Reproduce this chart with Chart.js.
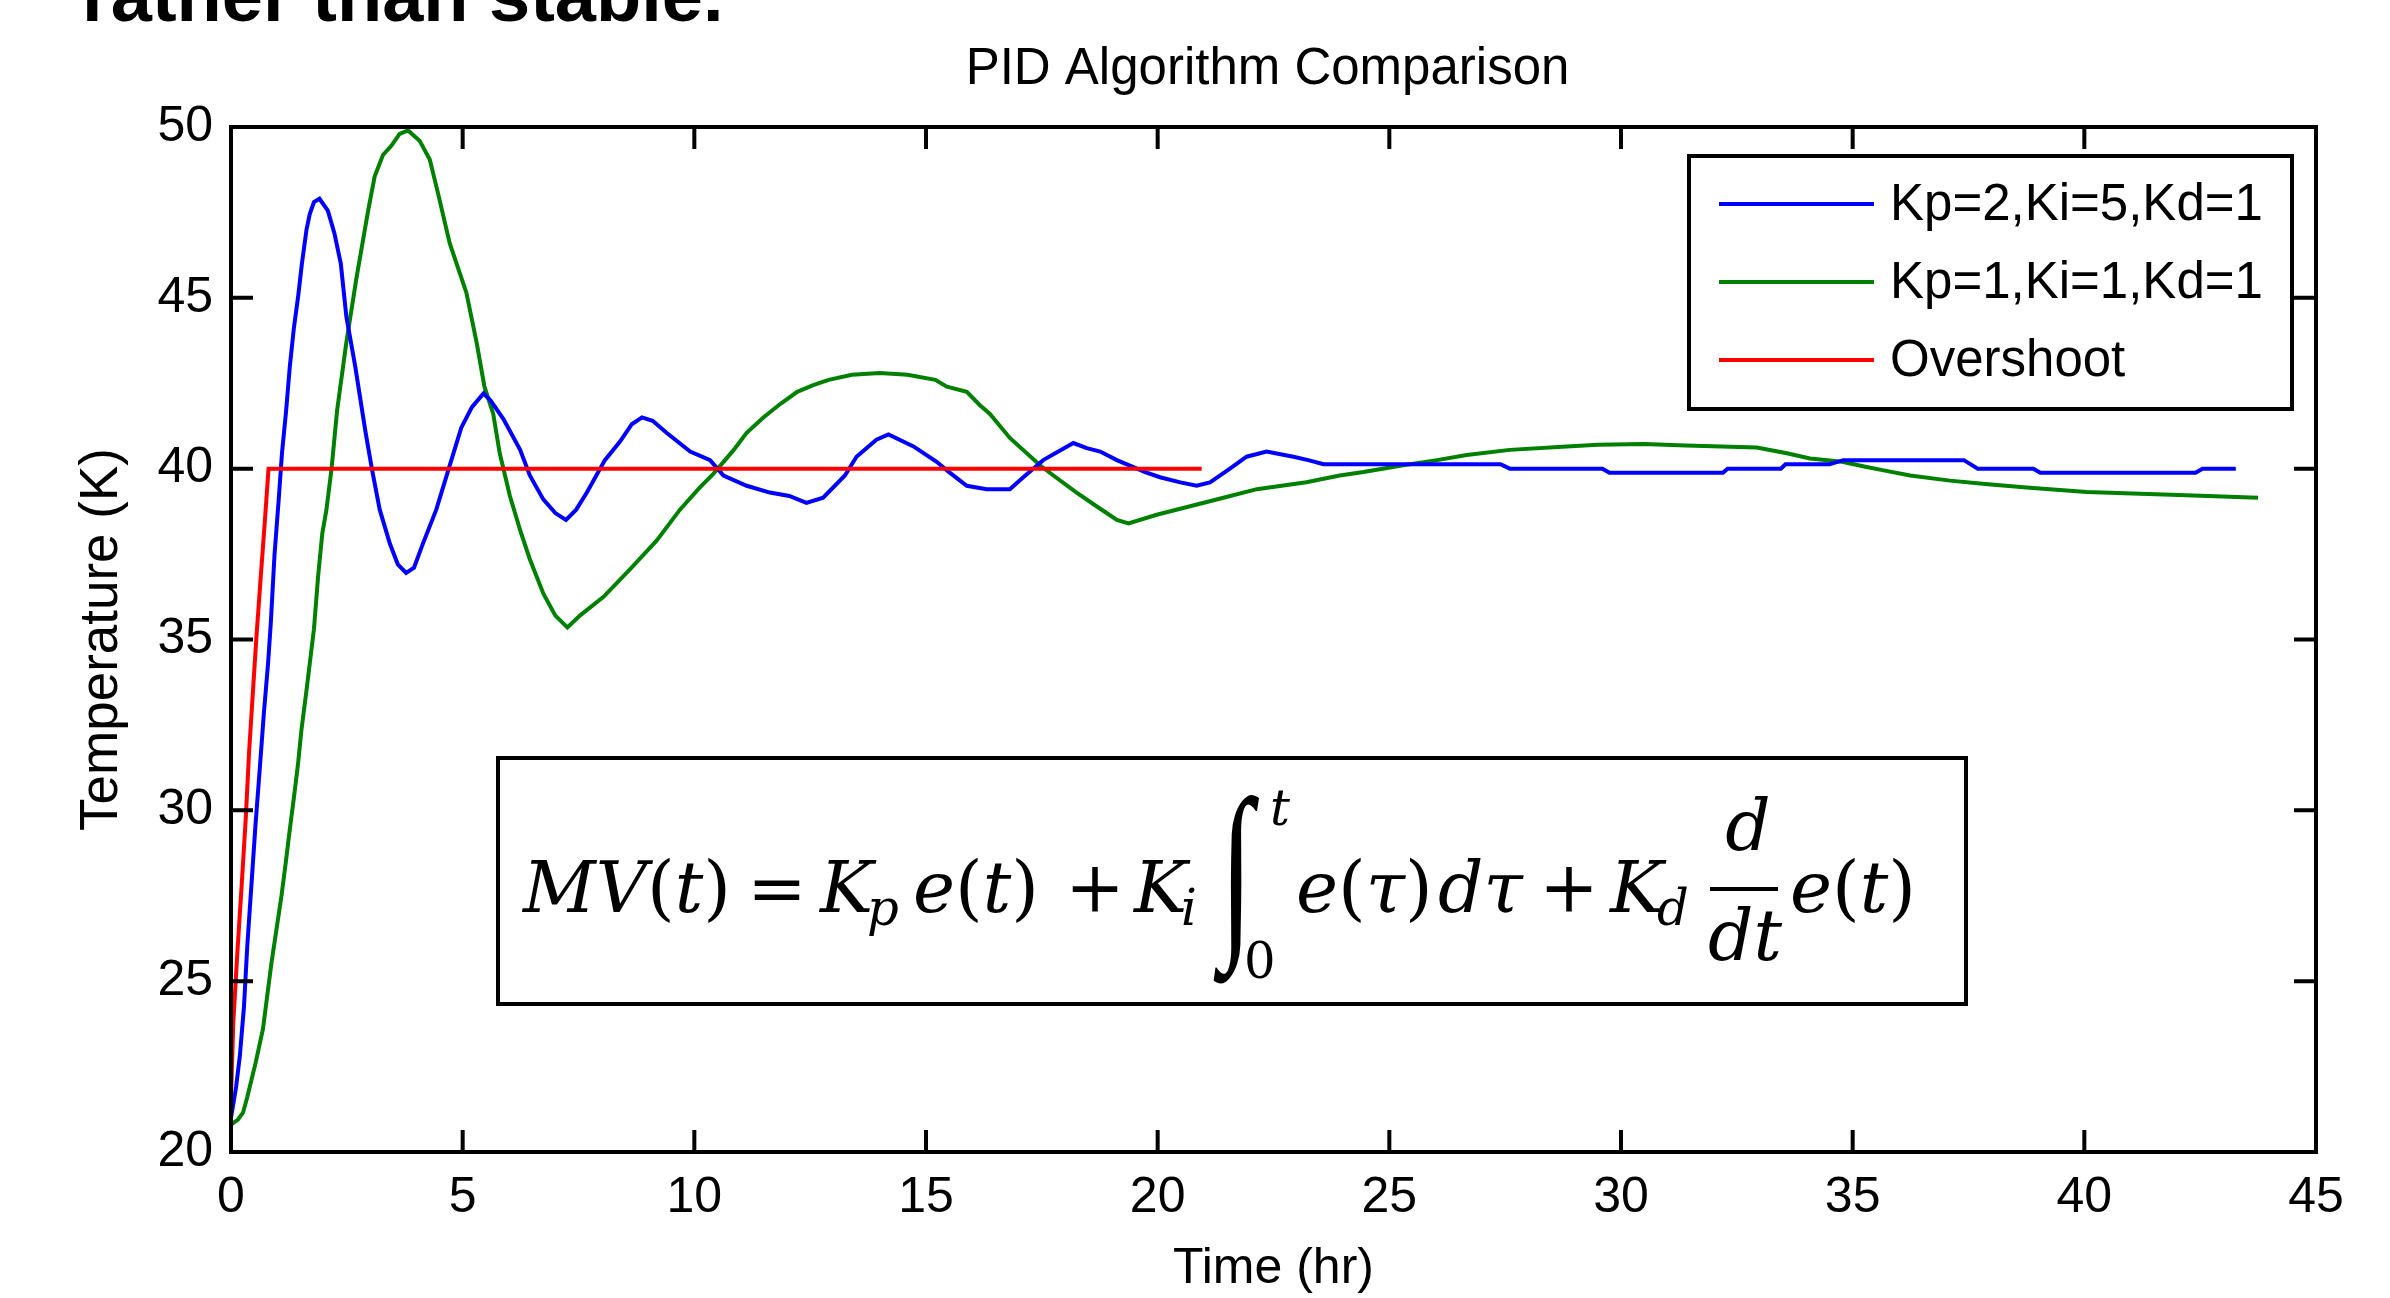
<!DOCTYPE html>
<html>
<head>
<meta charset="utf-8">
<title>PID Algorithm Comparison</title>
<script src="https://cdn.jsdelivr.net/npm/chart.js@4.4.1/dist/chart.umd.min.js"></script>
<style>
  html, body { margin: 0; padding: 0; background: #fff; }
  #wrap { position: relative; width: 2390px; height: 1298px; overflow: hidden; }
  #grafica { position: absolute; left: 0; top: 0; }
  #textoDiapositiva {
    position: absolute; left: 82px; top: -41px;
    font: bold 74px 'Liberation Sans', Arial, sans-serif;
    line-height: 74px; white-space: nowrap; color: #000;
  }
</style>
</head>
<body>
<div id="wrap">
  <canvas id="grafica" width="2390" height="1298"></canvas>
  <div id="textoDiapositiva">rather than stable.</div>
</div>
<script>
// Datos (tiempo en horas, temperatura en K)
const tiempoAzul = [0, 0.11, 0.19, 0.28, 0.35, 0.44, 0.53, 0.62, 0.71, 0.80, 0.86, 0.94, 1.03, 1.10, 1.19, 1.27, 1.36, 1.45, 1.53, 1.63, 1.70, 1.79, 1.91, 2.09, 2.23, 2.37, 2.49, 2.68, 2.90, 3.04, 3.21, 3.43, 3.60, 3.78, 3.95, 4.14, 4.43, 4.70, 4.97, 5.20, 5.45, 5.60, 5.88, 6.24, 6.45, 6.74, 7.00, 7.23, 7.45, 7.68, 8.07, 8.40, 8.65, 8.87, 9.10, 9.40, 9.91, 10.34, 10.63, 11.13, 11.63, 12.05, 12.42, 12.78, 13.25, 13.50, 13.93, 14.19, 14.73, 15.23, 15.45, 15.88, 16.31, 16.81, 17.10, 17.53, 18.18, 18.47, 18.76, 19.12, 19.73, 20.05, 20.49, 20.84, 21.13, 21.56, 21.92, 22.35, 22.93, 23.25, 23.58, 25.20, 27.40, 27.60, 29.60, 29.75, 32.20, 32.30, 33.45, 33.55, 34.50, 34.80, 37.40, 37.70, 38.90, 39.05, 42.40, 42.55, 43.27];
const tempAzul = [21.0, 21.9, 22.8, 24.25, 26.0, 27.8, 29.6, 31.2, 32.85, 34.3, 35.5, 37.5, 39.1, 40.45, 41.7, 43.0, 44.15, 45.05, 46.0, 47.0, 47.45, 47.8, 47.9, 47.55, 46.9, 46.0, 44.45, 43.0, 41.1, 40.0, 38.8, 37.8, 37.2, 36.95, 37.1, 37.8, 38.8, 40.0, 41.2, 41.8, 42.2, 42.0, 41.45, 40.55, 39.8, 39.1, 38.7, 38.5, 38.8, 39.3, 40.25, 40.8, 41.3, 41.5, 41.4, 41.05, 40.5, 40.25, 39.8, 39.5, 39.3, 39.2, 39.0, 39.15, 39.8, 40.35, 40.85, 41.0, 40.65, 40.2, 39.95, 39.5, 39.4, 39.4, 39.75, 40.25, 40.75, 40.6, 40.5, 40.25, 39.9, 39.75, 39.6, 39.5, 39.6, 40.0, 40.35, 40.5, 40.35, 40.25, 40.13, 40.13, 40.13, 40.0, 40.0, 39.88, 39.88, 40.0, 40.0, 40.13, 40.13, 40.25, 40.25, 40.0, 40.0, 39.88, 39.88, 40.0, 40.0];

const tiempoVerde = [0, 0.15, 0.26, 0.35, 0.53, 0.69, 0.78, 0.87, 0.98, 1.09, 1.18, 1.27, 1.36, 1.45, 1.52, 1.61, 1.70, 1.79, 1.88, 1.97, 2.06, 2.17, 2.29, 2.49, 2.71, 2.96, 3.10, 3.28, 3.46, 3.64, 3.82, 4.07, 4.29, 4.47, 4.72, 5.08, 5.30, 5.47, 5.66, 5.80, 6.02, 6.24, 6.45, 6.74, 7.00, 7.26, 7.53, 8.04, 8.61, 9.19, 9.69, 10.12, 10.41, 10.85, 11.13, 11.49, 11.86, 12.22, 12.58, 12.90, 13.40, 14.00, 14.60, 15.20, 15.45, 15.88, 16.17, 16.38, 16.81, 17.46, 17.75, 18.25, 18.68, 19.12, 19.37, 19.98, 20.70, 21.42, 22.14, 23.21, 23.93, 24.44, 25.30, 26.03, 26.67, 27.60, 28.83, 29.50, 30.50, 31.40, 32.93, 33.58, 34.08, 34.77, 35.30, 35.67, 36.24, 37.10, 37.86, 38.75, 40.05, 42.20, 43.75];
const tempVerde = [20.8, 20.95, 21.15, 21.6, 22.6, 23.6, 24.55, 25.5, 26.5, 27.5, 28.45, 29.45, 30.4, 31.4, 32.35, 33.3, 34.3, 35.3, 36.85, 38.1, 38.8, 40.0, 41.7, 43.7, 45.6, 47.55, 48.55, 49.18, 49.45, 49.8, 49.9, 49.6, 49.05, 48.05, 46.6, 45.15, 43.7, 42.4, 41.6, 40.45, 39.2, 38.2, 37.35, 36.35, 35.7, 35.35, 35.7, 36.25, 37.05, 37.9, 38.8, 39.45, 39.85, 40.55, 41.05, 41.5, 41.9, 42.25, 42.45, 42.6, 42.75, 42.8, 42.75, 42.6, 42.4, 42.25, 41.85, 41.6, 40.9, 40.1, 39.8, 39.3, 38.9, 38.5, 38.4, 38.65, 38.9, 39.15, 39.4, 39.6, 39.8, 39.9, 40.1, 40.25, 40.4, 40.55, 40.65, 40.7, 40.72, 40.68, 40.62, 40.45, 40.3, 40.2, 40.05, 39.95, 39.8, 39.65, 39.55, 39.45, 39.32, 39.22, 39.15];

const tiempoRojo = [0, 0.05, 0.14, 0.23, 0.32, 0.39, 0.47, 0.55, 0.64, 0.73, 0.81, 20.95];
const tempRojo = [21.6, 23.8, 25.9, 27.8, 29.8, 31.7, 33.4, 35.1, 36.8, 38.45, 40.0, 40.0];

const etiquetas = ['Kp=2,Ki=5,Kd=1', 'Kp=1,Ki=1,Kd=1', 'Overshoot'];
const colores = ['#0000FF', '#008000', '#FF0000'];

const ticksX = [0, 5, 10, 15, 20, 25, 30, 35, 40, 45];
const ticksY = [20, 25, 30, 35, 40, 45, 50];

const FUENTE = "'Liberation Sans', Arial, sans-serif";
const SERIF = "'DejaVu Serif', 'Liberation Serif', serif";

function puntos(xs, ys) {
    return xs.map((x, i) => ({ x: x, y: ys[i] }));
}

// Marco del eje con marcas hacia dentro en los cuatro lados y título
const marcoPlugin = {
    id: 'marco',
    afterDatasetsDraw(chart) {
        const { ctx, chartArea: a, scales } = chart;
        const largo = 22;
        ctx.save();
        ctx.strokeStyle = '#000';
        ctx.lineWidth = 4;
        ctx.beginPath();
        scales.x.ticks.forEach(t => {
            const px = scales.x.getPixelForValue(t.value);
            ctx.moveTo(px, a.bottom); ctx.lineTo(px, a.bottom - largo);
            ctx.moveTo(px, a.top); ctx.lineTo(px, a.top + largo);
        });
        scales.y.ticks.forEach(t => {
            const py = scales.y.getPixelForValue(t.value);
            ctx.moveTo(a.left, py); ctx.lineTo(a.left + largo, py);
            ctx.moveTo(a.right, py); ctx.lineTo(a.right - largo, py);
        });
        ctx.stroke();
        ctx.strokeRect(a.left, a.top, a.right - a.left, a.bottom - a.top);

        ctx.fillStyle = '#000';
        ctx.font = '51px ' + FUENTE;
        ctx.textAlign = 'center';
        ctx.textBaseline = 'alphabetic';
        ctx.fillText('PID Algorithm Comparison', (a.left + a.right) / 2 - 6, a.top - 43);
        ctx.restore();
    }
};

// Leyenda dentro del área, arriba a la derecha
const leyendaPlugin = {
    id: 'leyenda',
    afterDraw(chart) {
        const { ctx, chartArea: a } = chart;
        const x0 = a.right - 627, y0 = a.top + 29, w = 603, h = 253;
        const filas = [48, 126, 204];
        ctx.save();
        ctx.fillStyle = '#fff';
        ctx.fillRect(x0, y0, w, h);
        ctx.strokeStyle = '#000';
        ctx.lineWidth = 4;
        ctx.strokeRect(x0, y0, w, h);
        ctx.font = '51px ' + FUENTE;
        ctx.textAlign = 'left';
        ctx.textBaseline = 'middle';
        chart.data.datasets.forEach((ds, i) => {
            const yy = y0 + filas[i];
            ctx.strokeStyle = ds.borderColor;
            ctx.lineWidth = 4;
            ctx.beginPath();
            ctx.moveTo(x0 + 30, yy);
            ctx.lineTo(x0 + 185, yy);
            ctx.stroke();
            ctx.fillStyle = '#000';
            ctx.fillText(ds.label, x0 + 201, yy + 2);
        });
        ctx.restore();
    }
};

// Recuadro con la ecuación del PID
const formulaPlugin = {
    id: 'formula',
    afterDraw(chart) {
        const { ctx, chartArea: a } = chart;
        const bx = a.left + 267, by = a.top + 631, bw = 1468, bh = 246;
        const F = 71;
        const it = s => 'italic ' + s + 'px ' + SERIF;
        const up = s => s + 'px ' + SERIF;
        const base = by + 154;

        const escribe = (x, y, partes) => {
            partes.forEach(([t, f]) => {
                ctx.font = f;
                ctx.fillText(t, x, y);
                x += ctx.measureText(t).width;
            });
            return x;
        };

        ctx.save();
        ctx.fillStyle = '#fff';
        ctx.fillRect(bx, by, bw, bh);
        ctx.strokeStyle = '#000';
        ctx.lineWidth = 4;
        ctx.strokeRect(bx, by, bw, bh);
        ctx.fillStyle = '#000';
        ctx.textBaseline = 'alphabetic';
        ctx.textAlign = 'left';

        escribe(bx + 25, base, [['MV', it(F)], ['(', up(F)], ['t', it(F)], [')', up(F)]]);
        ctx.textAlign = 'center';
        ctx.font = up(F);
        ctx.fillText('=', bx + 279, base);
        ctx.fillText('+', bx + 597, base);
        ctx.fillText('+', bx + 1071, base);
        ctx.textAlign = 'left';

        let x = escribe(bx + 322, base, [['K', it(F)]]);
        escribe(x - 6, base + 13, [['p', it(F * 0.7)]]);
        escribe(bx + 415, base, [['e', it(F)], ['(', up(F)], ['t', it(F)], [')', up(F)]]);

        x = escribe(bx + 636, base, [['K', it(F)]]);
        escribe(x - 6, base + 13, [['i', it(F * 0.7)]]);

        // integral alargada en vertical
        ctx.save();
        ctx.translate(bx + 722, base + 20);
        ctx.scale(1, 1.6);
        ctx.font = "120px 'Liberation Serif', serif";
        ctx.fillText('\u222B', 0, 0);
        ctx.restore();
        escribe(bx + 772, base - 87, [['t', it(F * 0.7)]]);
        escribe(bx + 746, base + 66, [['0', up(F * 0.7)]]);

        escribe(bx + 798, base, [['e', it(F)], ['(', up(F)], ['\u03C4', it(F)], [')', up(F)]]);
        escribe(bx + 940, base, [['d', it(F)], ['\u03C4', it(F)]]);

        x = escribe(bx + 1112, base, [['K', it(F)]]);
        escribe(x - 6, base + 13, [['d', it(F * 0.7)]]);

        ctx.textAlign = 'center';
        ctx.font = it(F);
        ctx.fillText('d', bx + 1250, base - 62);
        ctx.fillText('dt', bx + 1247, base + 48);
        ctx.fillRect(bx + 1212, base - 25, 68, 4);
        ctx.textAlign = 'left';

        escribe(bx + 1292, base, [['e', it(F)], ['(', up(F)], ['t', it(F)], [')', up(F)]]);
        ctx.restore();
    }
};

const grafica = new Chart(document.getElementById('grafica'), {
    type: 'line',
    data: {
        datasets: [
            { label: etiquetas[0], data: puntos(tiempoAzul, tempAzul), borderColor: colores[0], order: 1 },
            { label: etiquetas[1], data: puntos(tiempoVerde, tempVerde), borderColor: colores[1], order: 2 },
            { label: etiquetas[2], data: puntos(tiempoRojo, tempRojo), borderColor: colores[2], order: 0 }
        ]
    },
    options: {
        responsive: false,
        animation: false,
        devicePixelRatio: 1,
        layout: { padding: { top: 127, right: 74, left: 0, bottom: 0 } },
        elements: {
            point: { radius: 0 },
            line: { tension: 0, borderWidth: 4, fill: false }
        },
        plugins: {
            legend: { display: false },
            title: { display: false },
            tooltip: { enabled: false }
        },
        scales: {
            x: {
                type: 'linear',
                min: ticksX[0],
                max: ticksX[ticksX.length - 1],
                ticks: { stepSize: ticksX[1] - ticksX[0], color: '#000', font: { family: FUENTE, size: 50 }, padding: 16, maxRotation: 0, autoSkip: false },
                grid: { display: false, drawTicks: false },
                border: { display: false },
                title: { display: true, text: 'Time (hr)', color: '#000', font: { family: FUENTE, size: 50, lineHeight: 1 }, padding: { top: 0, bottom: 4 } },
                afterFit(s) { s.height = 146; }
            },
            y: {
                type: 'linear',
                min: ticksY[0],
                max: ticksY[ticksY.length - 1],
                ticks: { stepSize: ticksY[1] - ticksY[0], color: '#000', font: { family: FUENTE, size: 50 }, padding: 18 },
                grid: { display: false, drawTicks: false },
                border: { display: false },
                title: { display: true, text: 'Temperature (K)', color: '#000', font: { family: FUENTE, size: 53, lineHeight: 1 }, padding: { top: 76, bottom: 0 } },
                afterFit(s) { s.width = 231; }
            }
        }
    },
    plugins: [marcoPlugin, leyendaPlugin, formulaPlugin]
});
</script>
</body>
</html>
